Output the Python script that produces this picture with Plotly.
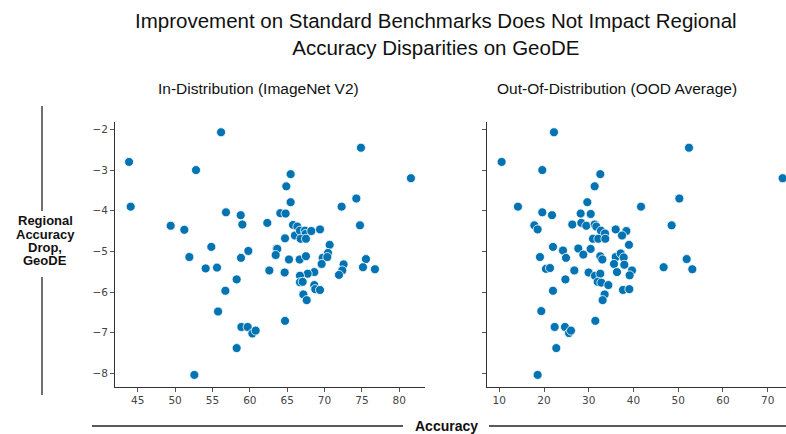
import plotly.graph_objects as go

# In-distribution accuracy (ImageNet V2) vs regional accuracy drop on GeoDE
id_acc = [43.84, 44.06, 56.15, 52.80, 74.87, 81.56, 65.46, 64.88, 65.46, 74.25,
          72.28, 56.81, 58.78, 59.00, 49.41, 51.24, 62.34, 64.08, 64.79, 74.74,
          65.78, 66.36, 66.04, 66.71, 67.38, 67.47, 68.23, 69.39, 66.80, 67.51,
          64.71, 54.85, 70.68, 63.59, 63.68, 63.46, 59.80, 51.91, 58.82, 65.24,
          66.67, 67.51, 69.74, 70.46, 70.37, 75.54, 69.61, 72.55, 72.37, 75.14,
          76.74, 71.93, 54.09, 55.61, 62.61, 64.66, 68.63, 67.74, 66.71, 58.24,
          66.71, 67.07, 68.63, 68.76, 69.39, 56.73, 67.16, 67.61, 55.75, 64.71,
          58.87, 59.71, 60.34, 60.78, 58.24, 52.58]
id_drop = [-2.80, -3.90, -2.07, -3.00, -2.45, -3.20, -3.10, -3.40, -3.79, -3.70,
           -3.90, -4.04, -4.11, -4.34, -4.37, -4.47, -4.30, -4.06, -4.07, -4.36,
           -4.35, -4.39, -4.61, -4.49, -4.49, -4.57, -4.50, -4.46, -4.69, -4.69,
           -4.68, -4.89, -4.84, -4.93, -4.94, -5.09, -4.99, -5.14, -5.16, -5.20,
           -5.20, -5.12, -5.16, -5.04, -5.14, -5.19, -5.31, -5.32, -5.47, -5.39,
           -5.44, -5.58, -5.42, -5.40, -5.47, -5.52, -5.51, -5.55, -5.60, -5.69,
           -5.76, -5.75, -5.83, -5.93, -5.95, -5.97, -6.06, -6.20, -6.48, -6.71,
           -6.86, -6.86, -7.02, -6.95, -7.38, -8.04]

# Out-of-distribution accuracy (OOD average) vs regional accuracy drop on GeoDE
ood_acc = [10.52, 22.22, 19.61, 52.41, 73.35, 32.58, 31.32, 29.68, 50.25, 41.68,
           14.17, 19.61, 21.78, 28.19, 30.43, 17.83, 18.57, 26.32, 28.33, 29.45,
           31.32, 31.69, 32.73, 33.63, 36.02, 38.41, 37.44, 48.53, 30.94, 32.13,
           33.70, 38.99, 22.00, 24.24, 27.66, 30.42, 19.09, 24.91, 28.78, 32.58,
           33.03, 36.02, 37.14, 37.81, 35.64, 37.95, 51.89, 46.74, 53.15, 20.43,
           21.33, 26.77, 29.97, 36.31, 39.66, 39.14, 31.39, 32.58, 24.78, 31.99,
           32.81, 34.38, 37.65, 39.07, 22.00, 33.55, 33.10, 19.39, 31.47, 22.37,
           24.68, 25.58, 26.03, 22.74, 18.57]
ood_drop = [-2.80, -2.07, -3.00, -2.45, -3.20, -3.10, -3.40, -3.79, -3.70, -3.90,
            -3.90, -4.04, -4.11, -4.07, -4.08, -4.36, -4.46, -4.34, -4.30, -4.37,
            -4.34, -4.39, -4.49, -4.56, -4.46, -4.50, -4.61, -4.36, -4.69, -4.69,
            -4.69, -4.84, -4.89, -4.98, -4.93, -4.94, -5.14, -5.16, -5.08, -5.12,
            -5.20, -5.14, -5.05, -5.15, -5.31, -5.33, -5.19, -5.39, -5.44, -5.43,
            -5.41, -5.47, -5.52, -5.51, -5.47, -5.59, -5.60, -5.55, -5.69, -5.75,
            -5.77, -5.83, -5.95, -5.93, -5.97, -6.06, -6.20, -6.47, -6.71, -6.86,
            -6.86, -7.01, -6.95, -7.38, -8.04]

ylabel_lines = ["Regional", "Accuracy", "Drop,", "GeoDE"]

W, H = 786, 434
BLUE = "#0173b2"
marker = dict(color=BLUE, size=9, line=dict(color="white", width=0.8))


def px(x):
    return x / W


def py(y):
    return 1 - y / H


fig = go.Figure()
fig.add_trace(go.Scatter(x=id_acc, y=id_drop, mode="markers", marker=marker,
                         xaxis="x", yaxis="y", showlegend=False))
fig.add_trace(go.Scatter(x=ood_acc, y=ood_drop, mode="markers", marker=marker,
                         xaxis="x2", yaxis="y2", showlegend=False))

tickfont = dict(family="DejaVu Sans", size=10.5, color="#444")
ax = dict(showgrid=False, zeroline=False, showline=True, linecolor="#333",
          linewidth=1, ticks="outside", ticklen=4, tickcolor="#555",
          tickfont=tickfont)
ydom = [py(386.7), py(121.7)]
yrange = [-8.33, -1.81]

fig.update_layout(
    width=W, height=H,
    margin=dict(l=0, r=0, t=0, b=0),
    paper_bgcolor="white", plot_bgcolor="white",
    xaxis=dict(ax, domain=[px(115), px(425)], range=[41.96, 83.44],
               tickvals=[45, 50, 55, 60, 65, 70, 75, 80], anchor="y"),
    yaxis=dict(ax, domain=ydom, range=yrange,
               tickvals=[-2, -3, -4, -5, -6, -7, -8], anchor="x"),
    xaxis2=dict(ax, domain=[px(486.7), 1.0], range=[7.18, 74.1],
                tickvals=[10, 20, 30, 40, 50, 60, 70], anchor="y2"),
    yaxis2=dict(ax, domain=ydom, range=yrange, showticklabels=False,
                tickvals=[-2, -3, -4, -5, -6, -7, -8], anchor="x2"),
)

title_font = dict(family="Liberation Sans, Arial, sans-serif", color="#111")
fig.add_annotation(text="Improvement on Standard Benchmarks Does Not Impact Regional<br>"
                        "Accuracy Disparities on GeoDE",
                   x=px(436), y=py(34), xref="paper", yref="paper",
                   showarrow=False, font=dict(title_font, size=20.5),
                   xanchor="center", yanchor="middle")
fig.add_annotation(text="In-Distribution (ImageNet V2)", x=px(258), y=py(89),
                   xref="paper", yref="paper", showarrow=False,
                   font=dict(title_font, size=15.5), xanchor="center", yanchor="middle")
fig.add_annotation(text="Out-Of-Distribution (OOD Average)", x=px(617), y=py(89),
                   xref="paper", yref="paper", showarrow=False,
                   font=dict(title_font, size=15.5), xanchor="center", yanchor="middle")

# y label, one line per annotation for tight spacing, with vertical rules
for i, line in enumerate(ylabel_lines):
    fig.add_annotation(text="<b>%s</b>" % line, x=px(45), y=py(221 + 13.3 * i),
                       xref="paper", yref="paper", showarrow=False,
                       font=dict(title_font, size=13), xanchor="center",
                       yanchor="middle")
fig.add_shape(type="line", xref="paper", yref="paper", x0=px(42), x1=px(42),
              y0=py(106), y1=py(211), line=dict(color="#222", width=1.3))
fig.add_shape(type="line", xref="paper", yref="paper", x0=px(42), x1=px(42),
              y0=py(277), y1=py(395), line=dict(color="#222", width=1.3))

# x label with horizontal rules left and right
fig.add_annotation(text="<b>Accuracy</b>", x=px(446), y=py(426), xref="paper",
                   yref="paper", showarrow=False, font=dict(title_font, size=14),
                   xanchor="center", yanchor="middle")
fig.add_shape(type="line", xref="paper", yref="paper", x0=px(92), x1=px(403),
              y0=py(426), y1=py(426), line=dict(color="#222", width=1.3))
fig.add_shape(type="line", xref="paper", yref="paper", x0=px(489), x1=1.0,
              y0=py(426), y1=py(426), line=dict(color="#222", width=1.3))

fig.write_html("out.html", config={"displayModeBar": False},
               post_script="document.body.style.margin='0';"
                           "document.body.style.overflow='hidden';")
